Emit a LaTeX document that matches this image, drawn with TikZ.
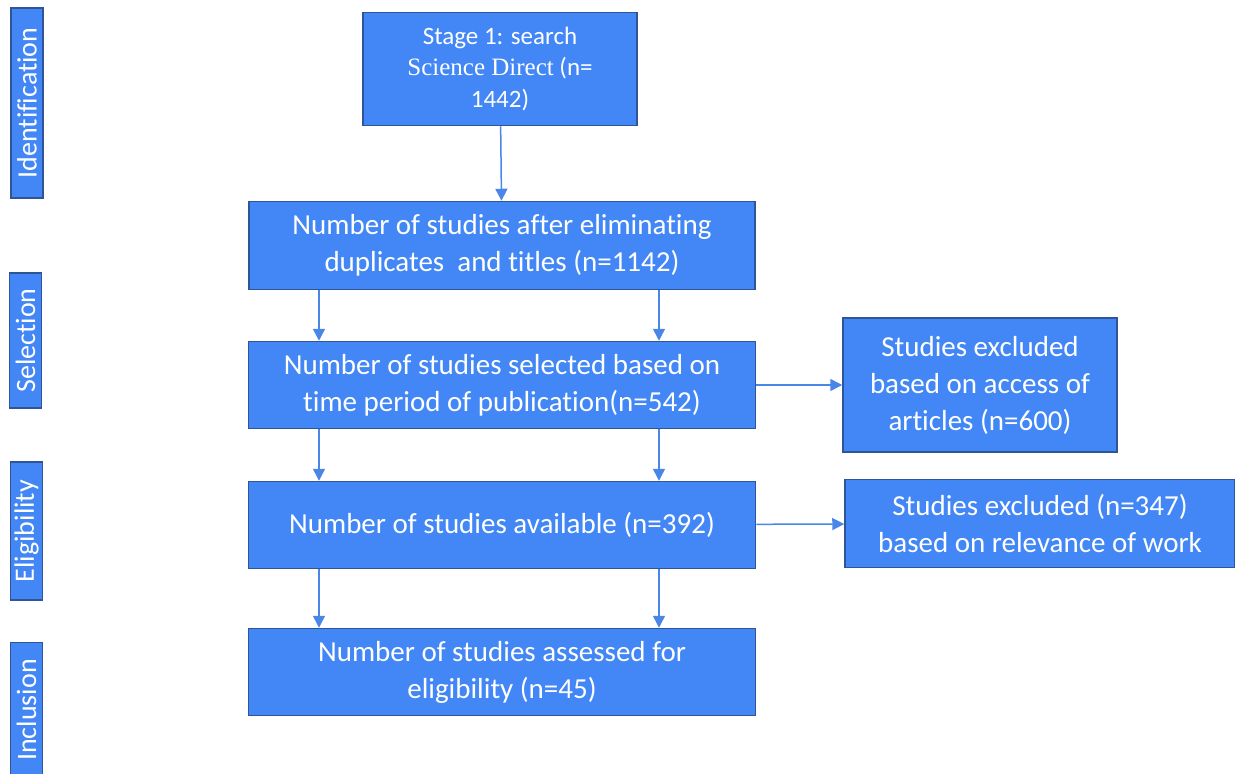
\documentclass[tikz,border=0pt]{standalone}
\usepackage{fontspec}
\setmainfont{Carlito}[Ligatures=CommonOff]
\newfontfamily\timesfont{Liberation Serif}
\usetikzlibrary{arrows.meta}

\definecolor{boxblue}{HTML}{4287F5}
\definecolor{edgeblue}{HTML}{2F5597}
\definecolor{arrowblue}{HTML}{4A86E8}

\tikzset{
  stagebox/.style={draw=edgeblue, fill=boxblue, line width=1.5pt, text=white,
    align=center, inner sep=0pt, font=\fontsize{29}{37}\selectfont},
  sidebox/.style={draw=edgeblue, fill=boxblue, line width=1.5pt, text=white,
    rotate=90, inner sep=0pt, minimum height=32pt, font=\fontsize{28}{34}\selectfont},
  arr/.style={draw=arrowblue, line width=1.5pt, -{Triangle[length=12pt,width=12pt]}}
}

\begin{document}
\begin{tikzpicture}[x=1pt,y=-1pt]

\useasboundingbox (0,0) rectangle (1235,774);

% phases on the left
\node[sidebox, minimum width=190pt] (ident) at (27,103) {Identification};
\node[sidebox, minimum width=135pt] (select) at (25.5,340.5) {Selection};
\node[sidebox, minimum width=138pt] (elig) at (26.5,531) {Eligibility};
\node[sidebox, minimum width=135pt] (incl) at (26.5,710) {Inclusion};

% main column
\node[stagebox, minimum width=274pt, minimum height=113pt,
      font=\fontsize{25}{31.5}\selectfont] (search) at (500,69)
  {Stage 1: search\\ {\timesfont Science Direct} (n=\\ 1442)};
\node[stagebox, minimum width=506pt, minimum height=88pt] (dup) at (502,245.5)
  {Number of studies after eliminating\\ duplicates\ \ and titles (n=1142)};
\node[stagebox, minimum width=507pt, minimum height=87pt] (period) at (502,385)
  {Number of studies selected based on\\ time period of publication(n=542)};
\node[stagebox, minimum width=507pt, minimum height=87pt] (avail) at (502,525)
  {Number of studies available (n=392)};
\node[stagebox, minimum width=507pt, minimum height=87pt] (assess) at (502,672)
  {Number of studies assessed\ for\\ eligibility (n=45)};

% excluded
\node[stagebox, minimum width=274pt, minimum height=134pt] (access) at (980,385)
  {Studies excluded\\ based on access of\\ articles (n=600)};
\node[stagebox, minimum width=390pt, minimum height=88pt] (relev) at (1040,523.5)
  {Studies excluded (n=347)\\ based on relevance of work};

\draw[arr] (search) -- (dup);

\draw[arr] ([xshift=-183pt]dup.south) -- ([xshift=-183pt]period.north);
\draw[arr] ([xshift=157pt]dup.south) -- ([xshift=157pt]period.north);
\draw[arr] ([xshift=-183pt]period.south) -- ([xshift=-183pt]avail.north);
\draw[arr] ([xshift=157pt]period.south) -- ([xshift=157pt]avail.north);
\draw[arr] ([xshift=-183pt]avail.south) -- ([xshift=-183pt]assess.north);
\draw[arr] ([xshift=157pt]avail.south) -- ([xshift=157pt]assess.north);

\draw[arr] (period) -- (access);
\draw[arr] (avail) -- (relev);

\end{tikzpicture}
\end{document}
